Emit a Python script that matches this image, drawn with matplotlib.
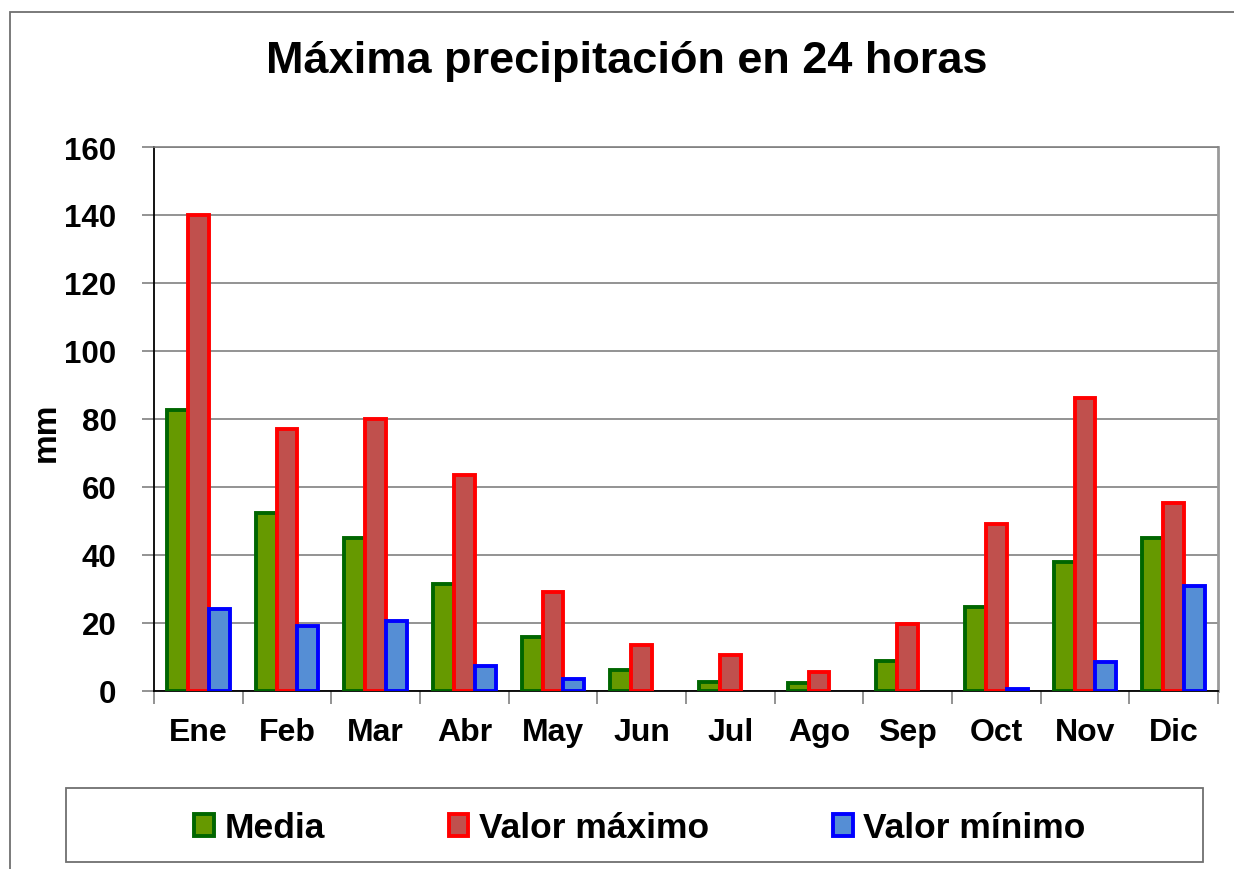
import matplotlib.pyplot as plt
import numpy as np
from matplotlib.patches import Rectangle

plt.rcParams['font.family'] = ['Liberation Sans', 'DejaVu Sans']
plt.rcParams['font.weight'] = 'bold'

meses = ['Ene', 'Feb', 'Mar', 'Abr', 'May', 'Jun', 'Jul', 'Ago', 'Sep', 'Oct', 'Nov', 'Dic']
media = [82.7, 52.3, 45.0, 31.5, 15.9, 6.2, 2.6, 2.4, 8.9, 24.8, 38.0, 45.0]
maximo = [140.0, 77.0, 80.0, 63.5, 29.0, 13.5, 10.6, 5.6, 19.7, 49.0, 86.3, 55.2]
minimo = [24.0, 19.0, 20.5, 7.4, 3.5, 0.0, 0.0, 0.0, 0.0, 0.5, 8.6, 31.0]

series = [
    ('Media', media, '#669900', '#006600'),
    ('Valor máximo', maximo, '#C0504D', '#FF0000'),
    ('Valor mínimo', minimo, '#558ED5', '#0000FF'),
]

fig = plt.figure(figsize=(12.34, 8.7), dpi=100)
ax = fig.add_axes([154 / 1234, 1 - 692 / 870, 1064 / 1234, 544 / 870])

x = np.arange(len(meses))
w = 0.235
for i, (nombre, vals, fill, edge) in enumerate(series):
    vals = np.array(vals)
    lw = np.where(vals > 0, 2.8, 0)
    ax.bar(x + (i - 1) * w, vals, w, color=fill, edgecolor=edge,
           linewidth=lw, label=nombre, zorder=3)

ax.set_xlim(-0.5, len(meses) - 0.5)
ax.set_ylim(0, 160)
ax.set_yticks(range(0, 161, 20))
ax.yaxis.grid(True, color='#808080', linewidth=1.2, zorder=0)

ax.set_xticks(x)
ax.set_xticklabels(meses, fontsize=23, fontweight='bold')
ax.set_xticks(np.arange(-0.5, len(meses), 1), minor=True)
ax.tick_params(axis='x', which='major', length=0, pad=19)
ax.tick_params(axis='x', which='minor', length=9, color='#808080', width=1.2)
ax.tick_params(axis='y', length=9, color='#808080', width=1.2, pad=18, labelsize=22.5)
for lab in ax.get_yticklabels():
    lab.set_fontweight('bold')

ax.set_ylabel('mm', fontsize=24, fontweight='bold')
ax.yaxis.set_label_coords(-0.0865, 0.478)

ax.spines['left'].set_color('#000000')
ax.spines['left'].set_linewidth(1.3)
ax.spines['bottom'].set_color('#000000')
ax.spines['bottom'].set_linewidth(1.3)
ax.spines['right'].set_color('#9a9a9a')
ax.spines['right'].set_linewidth(2)
ax.spines['top'].set_color('#808080')
ax.spines['top'].set_linewidth(1.2)

fig.text(627 / 1234, 1 - 61 / 870, 'Máxima precipitación en 24 horas',
         ha='center', va='center', fontsize=32.5, fontweight='bold')

# outer chart border
fig.patches.append(Rectangle((10 / 1234, -0.05), 1.1, 1 - 13 / 870 + 0.05,
                             transform=fig.transFigure, fill=False,
                             edgecolor='#707070', linewidth=1.3))
# legend box
fig.patches.append(Rectangle((66 / 1234, 1 - 863 / 870), (1203 - 66) / 1234, 74 / 870,
                             transform=fig.transFigure, fill=False,
                             edgecolor='#707070', linewidth=1.3))

fig.legend(loc='center', bbox_to_anchor=(640 / 1234, 1 - 829 / 870), ncol=3,
           frameon=False, prop={'size': 25.5, 'weight': 'bold'},
           handlelength=0.55, handleheight=0.55, handletextpad=0.3,
           columnspacing=3.5)

fig.savefig('out.png', dpi=100)
